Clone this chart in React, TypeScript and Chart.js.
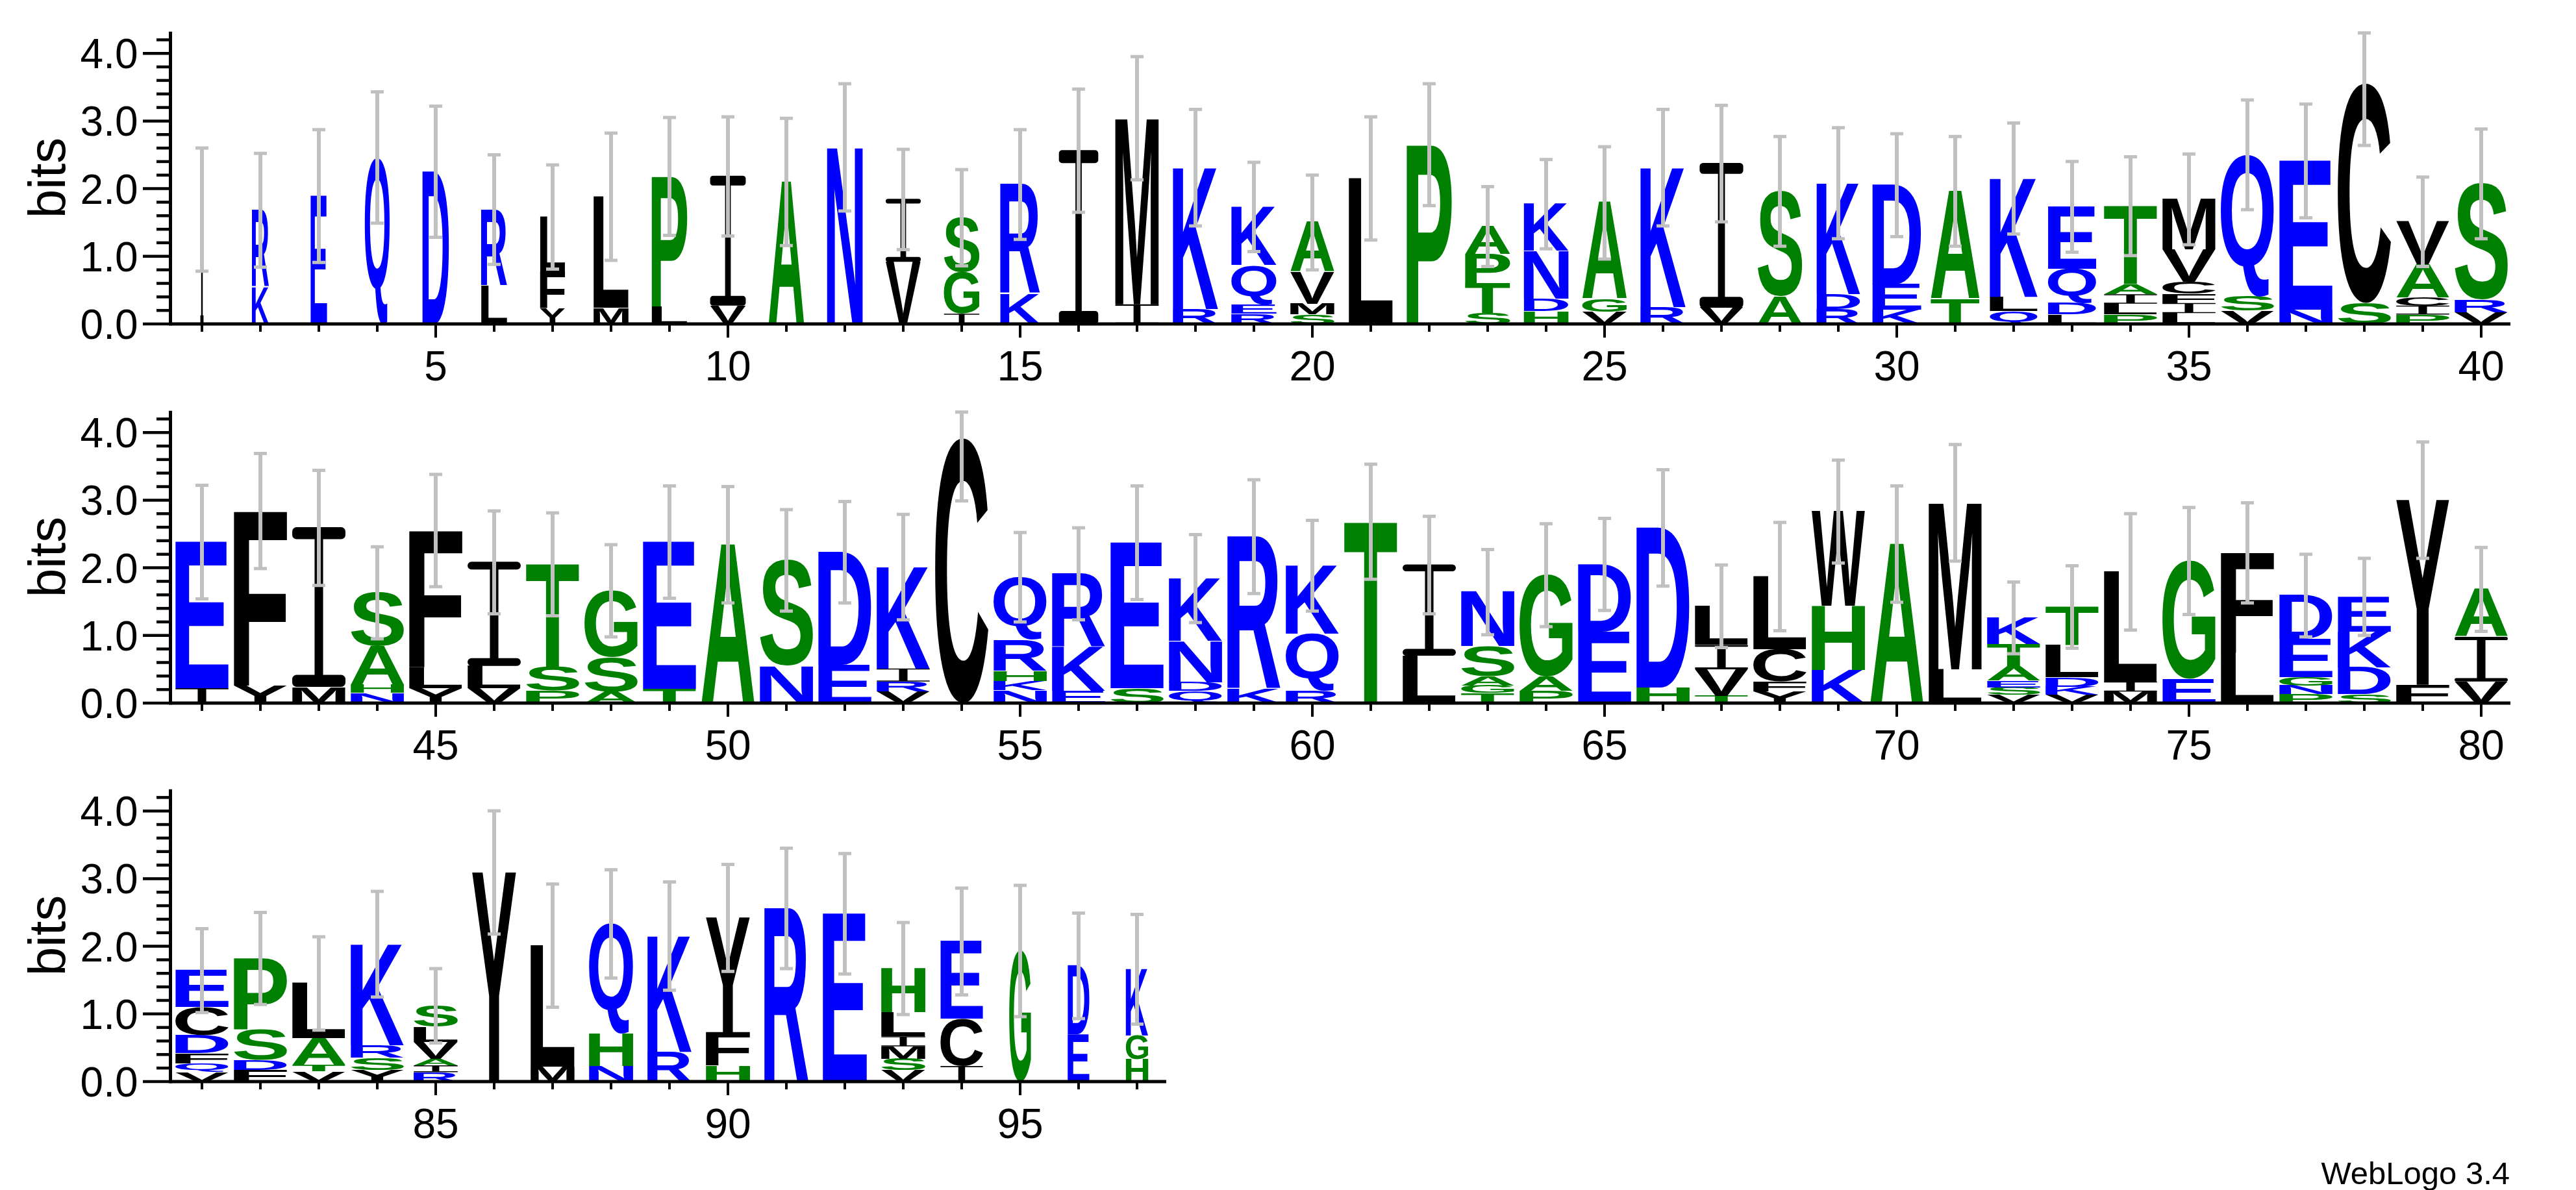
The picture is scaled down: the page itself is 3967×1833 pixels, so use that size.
import React, { useEffect, useRef } from 'react';
import { Chart, registerables } from 'chart.js';

Chart.register(...registerables);

// ---------------- data ----------------
// letters of each stack, listed bottom -> top
const stackLetters: string[] = [
  'I', 'KR', 'E', 'Q', 'D', 'LR', 'YFL', 'ML', 'LP', 'VI',
  'A', 'N', 'VI', 'IGS', 'KR', 'I', 'IM', 'RK', 'REQK', 'SMVA',
  'L', 'P', 'STPA', 'HDNK', 'VGA', 'RK', 'VI', 'AS', 'RDK', 'KED',
  'TA', 'QLK', 'LDQE', 'PLIAT', 'LIFCVM', 'VSQ', 'NE', 'SC', 'PICAV', 'VRS',
  'IE', 'YF', 'MI', 'NHAS', 'YLF', 'VLI', 'PST', 'ASG', 'TE', 'A',
  'NS', 'ED', 'VRIK', 'C', 'NKHRQ', 'EKR', 'SE', 'QDNK', 'KR', 'RQK',
  'T', 'LI', 'TGASN', 'PAG', 'ED', 'HD', 'TVIL', 'YFCL', 'KHW', 'A',
  'LM', 'VSEATK', 'VKDLT', 'MIL', 'EG', 'LF', 'PNGED', 'SDKE', 'FY', 'VIA',
  'VQFDCE', 'FDSP', 'VTAL', 'YSRK', 'RIAVLS', 'Y', 'ML', 'NHQ', 'RK', 'HFY',
  'R', 'E', 'VSMILH', 'ICE', 'G', 'ED', 'HGK',
];

// height in bits of each letter, bottom -> top
const stackBits: number[][] = [
  [1.70], [0.55, 1.14], [1.90], [2.47], [2.26], [0.57, 1.13], [0.23, 0.55, 0.81], [0.24, 1.65], [0.26, 1.93], [0.27, 1.92],
  [2.11], [2.62], [0.92, 0.93], [0.15, 0.62, 0.81], [0.45, 1.62], [2.57], [0.29, 2.76], [0.22, 2.10], [0.15, 0.14, 0.58, 0.87], [0.14, 0.16, 0.47, 0.74],
  [2.16], [2.66], [0.16, 0.44, 0.43, 0.42], [0.19, 0.18, 0.71, 0.70], [0.18, 0.19, 1.43], [0.25, 2.07], [0.24, 2.14], [0.41, 1.56], [0.22, 0.22, 1.65], [0.21, 0.38, 1.47],
  [0.37, 1.60], [0.19, 0.21, 1.76], [0.14, 0.17, 0.51, 0.92], [0.14, 0.16, 0.14, 0.15, 1.16], [0.16, 0.15, 0.14, 0.17, 0.48, 0.75], [0.20, 0.21, 2.10], [0.21, 2.21], [0.31, 3.25], [0.14, 0.13, 0.12, 0.49, 0.64], [0.17, 0.19, 1.72],
  [0.22, 2.17], [0.26, 2.59], [0.24, 2.36], [0.15, 0.12, 0.57, 0.80], [0.22, 0.31, 2.03], [0.22, 0.33, 1.54], [0.19, 0.35, 1.52], [0.17, 0.51, 0.99], [0.21, 2.18], [2.35],
  [0.55, 1.57], [0.57, 1.67], [0.17, 0.15, 0.19, 1.51], [3.92], [0.19, 0.14, 0.15, 0.46, 0.93], [0.18, 0.65, 1.09], [0.22, 2.16], [0.18, 0.13, 0.61, 0.93], [0.21, 2.26], [0.18, 0.85, 1.01],
  [2.69], [0.70, 1.35], [0.15, 0.11, 0.14, 0.44, 0.81], [0.18, 0.21, 1.51], [1.06, 1.00], [0.23, 2.37], [0.11, 0.39, 0.36, 0.58], [0.17, 0.15, 0.48, 1.08], [0.49, 0.95, 1.40], [2.36],
  [0.50, 2.47], [0.12, 0.11, 0.10, 0.21, 0.33, 0.40], [0.12, 0.12, 0.14, 0.48, 0.57], [0.17, 0.15, 1.63], [0.36, 1.75], [0.75, 1.48], [0.13, 0.13, 0.12, 0.57, 0.65], [0.13, 0.40, 0.53, 0.52], [0.27, 2.74], [0.32, 0.66, 0.71],
  [0.14, 0.13, 0.15, 0.27, 0.41, 0.55], [0.17, 0.15, 0.46, 1.05], [0.15, 0.10, 0.39, 0.82], [0.17, 0.18, 0.19, 1.50], [0.14, 0.10, 0.10, 0.25, 0.22, 0.32], [3.10], [0.22, 1.80], [0.23, 0.48, 1.63], [0.44, 1.72], [0.24, 0.49, 1.70],
  [2.57], [2.49], [0.17, 0.17, 0.18, 0.15, 0.36, 0.65], [0.23, 0.70, 1.15], [1.94], [0.70, 1.02], [0.33, 0.35, 0.99],
];

// visible stack width (fraction of a full column; narrower where the column has gaps)
const stackWidths: number[] = [
  0.06, 0.32, 0.31, 0.47, 0.50, 0.49, 0.47, 0.66, 0.67, 0.67,
  0.67, 0.67, 0.66, 0.67, 0.75, 0.74, 0.82, 0.85, 0.85, 0.83,
  0.83, 0.85, 0.85, 0.84, 0.84, 0.85, 0.82, 0.84, 0.82, 0.92,
  0.92, 0.90, 0.91, 1, 1, 1, 1, 1, 1, 1,
  1, 1, 1, 1, 1, 1, 1, 1, 1, 1,
  1, 1, 1, 1, 1, 1, 1, 1, 1, 1,
  1, 1, 1, 1, 1, 1, 1, 1, 1, 1,
  1, 1, 1, 1, 1, 1, 1, 1, 1, 1,
  1, 1, 1, 1, 0.83, 0.83, 0.83, 0.83, 0.83, 0.83,
  0.83, 0.83, 0.83, 0.8, 0.41, 0.41, 0.42,
];

// half height of the error bar, in bits
const errorBits: number[] = [
  0.92, 0.85, 0.99, 0.98, 0.98, 0.82, 0.78, 0.95, 0.88, 0.89,
  0.95, 0.95, 0.75, 0.72, 0.82, 0.92, 0.92, 0.87, 0.67, 0.71,
  0.92, 0.91, 0.60, 0.67, 0.84, 0.87, 0.87, 0.82, 0.83, 0.77,
  0.82, 0.83, 0.68, 0.74, 0.68, 0.82, 0.85, 0.92, 0.67, 0.82,
  0.85, 0.86, 0.86, 0.69, 0.84, 0.77, 0.77, 0.69, 0.84, 0.87,
  0.76, 0.76, 0.79, 0.93, 0.67, 0.69, 0.85, 0.66, 0.85, 0.68,
  0.86, 0.73, 0.64, 0.77, 0.69, 0.87, 0.62, 0.81, 0.77, 0.87,
  0.87, 0.54, 0.62, 0.87, 0.80, 0.75, 0.62, 0.58, 0.87, 0.63,
  0.63, 0.69, 0.70, 0.79, 0.56, 0.92, 0.92, 0.81, 0.81, 0.80,
  0.90, 0.90, 0.69, 0.80, 0.98, 0.79, 0.82,
];

const rowStarts: number[] = [1, 41, 81];
const rowEnds: number[] = [40, 80, 97];
const yTickLabels: string[] = ['0.0', '1.0', '2.0', '3.0', '4.0'];
const xTickLabels: string[] = ['5', '10', '15', '20', '25', '30', '35', '40', '45', '50', '55', '60', '65', '70', '75', '80', '85', '90', '95'];
const yAxisTitle = 'bits';
const fineprint = 'WebLogo 3.4';
const Y_MAX = 4.32;

// ---------------- styling ----------------
const PAGE_W = 3967;
const PAGE_H = 1833;
const ROW_TOPS = [0, 584, 1167];
const ROW_HEIGHTS = [600, 600, 666];
const BASE_Y = 499;
const PLOT_LEFT = 266;
const COL_PX = 90;
const BOX_FRAC = 0.91;
const BLUE = '#0000ff';
const GREEN = '#008000';
const BLACK = '#000000';
const ERR_COLOR = '#c0c0c0';
const GLYPH_FONT = 'bold 200px "Liberation Sans", Arial, sans-serif';
const LABEL_FONT = '"Liberation Sans", Arial, Helvetica, sans-serif';

function letterColor(ch: string): string {
  if ('RKDENQ'.includes(ch)) return BLUE;
  if ('SGHTAP'.includes(ch)) return GREEN;
  return BLACK;
}

function drawGlyph(ctx: CanvasRenderingContext2D, ch: string, x: number, y: number, w: number, h: number, color: string) {
  if (w <= 0 || h <= 0) return;
  ctx.save();
  ctx.fillStyle = color;
  if (ch === 'I') {
    const t = Math.max(h * 0.075, 1.5);
    const stem = Math.max(w * 0.16, 2.5);
    ctx.fillRect(x + (w - stem) / 2, y + t * 0.5, stem, h - t);
    const r = Math.min(t / 2, w * 0.08);
    ctx.beginPath();
    (ctx as any).roundRect(x, y, w, t, r);
    (ctx as any).roundRect(x, y + h - t, w, t, r);
    ctx.fill();
  } else {
    ctx.font = GLYPH_FONT;
    ctx.textAlign = 'left';
    ctx.textBaseline = 'alphabetic';
    const m = ctx.measureText(ch);
    const gl = m.actualBoundingBoxLeft;
    const gw = m.actualBoundingBoxLeft + m.actualBoundingBoxRight;
    const ga = m.actualBoundingBoxAscent;
    const gh = m.actualBoundingBoxAscent + m.actualBoundingBoxDescent;
    ctx.translate(x, y);
    ctx.scale(w / gw, h / gh);
    ctx.fillText(ch, gl, ga);
  }
  ctx.restore();
}

function makeLogoPlugin(rowIndex: number) {
  const start = rowStarts[rowIndex];
  const end = rowEnds[rowIndex];
  return {
    id: 'seqLogo' + rowIndex,
    afterDraw(chart: any) {
      const ctx: CanvasRenderingContext2D = chart.ctx;
      const xs = chart.scales.x;
      const ys = chart.scales.y;
      ctx.save();

      // letters
      for (let p = start; p <= end; p++) {
        const i = p - 1;
        const letters = stackLetters[i];
        const bits = stackBits[i];
        const cx = xs.getPixelForValue(p);
        const colW = xs.getPixelForValue(p + 0.5) - xs.getPixelForValue(p - 0.5);
        const w = colW * BOX_FRAC * stackWidths[i];
        let base = 0;
        for (let k = 0; k < letters.length; k++) {
          const yBottom = ys.getPixelForValue(base);
          const yTop = ys.getPixelForValue(base + bits[k]);
          drawGlyph(ctx, letters[k], cx - w / 2, yTop, w, yBottom - yTop, letterColor(letters[k]));
          base += bits[k];
        }
      }

      // error bars
      ctx.strokeStyle = ERR_COLOR;
      ctx.lineCap = 'butt';
      for (let p = start; p <= end; p++) {
        const i = p - 1;
        const total = stackBits[i].reduce((a, b) => a + b, 0);
        const hi = Math.min(total + errorBits[i], Y_MAX);
        const lo = Math.max(total - errorBits[i], 0);
        const cx = xs.getPixelForValue(p);
        const yHi = ys.getPixelForValue(hi);
        const yLo = ys.getPixelForValue(lo);
        ctx.lineWidth = 6;
        ctx.beginPath();
        ctx.moveTo(cx, yLo);
        ctx.lineTo(cx, yHi);
        ctx.stroke();
        ctx.lineWidth = 5;
        ctx.beginPath();
        ctx.moveTo(cx - 10, yHi + 2);
        ctx.lineTo(cx + 10, yHi + 2);
        ctx.moveTo(cx - 10, yLo);
        ctx.lineTo(cx + 10, yLo);
        ctx.stroke();
      }

      // axes
      const yb = ys.getPixelForValue(0);
      const yt = ys.getPixelForValue(Y_MAX);
      const xl = xs.getPixelForValue(start - 0.5);
      const xr = xs.getPixelForValue(end + 0.5);
      const axX = xl - 3.5;
      ctx.strokeStyle = BLACK;
      ctx.lineWidth = 5;
      ctx.beginPath();
      ctx.moveTo(axX, yb + 2.5);
      ctx.lineTo(axX, yt);
      ctx.stroke();
      ctx.beginPath();
      ctx.moveTo(axX, yb);
      ctx.lineTo(xr, yb);
      ctx.stroke();

      // y ticks (minor every 0.2, major every 1)
      ctx.lineWidth = 4.5;
      for (let k = 0; k * 0.2 <= Y_MAX; k++) {
        const py = ys.getPixelForValue(k * 0.2);
        const len = k % 5 === 0 ? 40 : 19;
        ctx.beginPath();
        ctx.moveTo(axX - 2.5 - len, py);
        ctx.lineTo(axX, py);
        ctx.stroke();
      }
      // x ticks
      ctx.lineWidth = 4;
      for (let p = start; p <= end; p++) {
        const px = xs.getPixelForValue(p);
        const len = p % 5 === 0 ? 21 : 12;
        ctx.beginPath();
        ctx.moveTo(px, yb);
        ctx.lineTo(px, yb + len);
        ctx.stroke();
      }

      // labels
      ctx.fillStyle = BLACK;
      ctx.font = '64px ' + LABEL_FONT;
      ctx.textAlign = 'right';
      ctx.textBaseline = 'alphabetic';
      yTickLabels.forEach((lbl) => {
        const py = ys.getPixelForValue(parseFloat(lbl));
        ctx.fillText(lbl, axX - 50, py + 23);
      });
      ctx.textAlign = 'center';
      xTickLabels.forEach((lbl) => {
        const v = Number(lbl);
        if (v < start || v > end) return;
        ctx.fillText(lbl, xs.getPixelForValue(v), yb + 87);
      });

      ctx.save();
      ctx.font = '80px ' + LABEL_FONT;
      ctx.translate(100, ys.getPixelForValue(Y_MAX / 2));
      ctx.rotate(-Math.PI / 2);
      ctx.textAlign = 'center';
      ctx.fillText(yAxisTitle, 0, 0);
      ctx.restore();

      if (rowIndex === 2) {
        ctx.font = '49px ' + LABEL_FONT;
        ctx.textAlign = 'right';
        ctx.fillText(fineprint, 3865, 1824 - ROW_TOPS[2]);
      }
      ctx.restore();
    },
  };
}

function LogoRow({ rowIndex }: { rowIndex: number }) {
  const ref = useRef<HTMLCanvasElement | null>(null);
  useEffect(() => {
    const canvas = ref.current;
    if (!canvas) return;
    const start = rowStarts[rowIndex];
    const end = rowEnds[rowIndex];
    const h = ROW_HEIGHTS[rowIndex];
    const plotRight = PLOT_LEFT + (end - start + 1) * COL_PX;
    const points: { x: number; y: number }[] = [];
    for (let p = start; p <= end; p++) {
      points.push({ x: p, y: stackBits[p - 1].reduce((a, b) => a + b, 0) });
    }
    const chart = new Chart(canvas, {
      type: 'scatter',
      data: { datasets: [{ data: points, pointRadius: 0, showLine: false }] },
      options: {
        responsive: false,
        animation: false,
        devicePixelRatio: 1,
        events: [],
        layout: {
          padding: {
            left: PLOT_LEFT,
            right: PAGE_W - plotRight,
            top: BASE_Y - Y_MAX * 104.2,
            bottom: h - BASE_Y,
          },
        },
        scales: {
          x: { type: 'linear', min: start - 0.5, max: end + 0.5, display: false },
          y: { type: 'linear', min: 0, max: Y_MAX, display: false },
        },
        plugins: { legend: { display: false }, tooltip: { enabled: false }, title: { display: false } },
      },
      plugins: [makeLogoPlugin(rowIndex) as any],
    });
    return () => chart.destroy();
  }, [rowIndex]);
  return (
    <canvas
      ref={ref}
      width={PAGE_W}
      height={ROW_HEIGHTS[rowIndex]}
      style={{ position: 'absolute', left: 0, top: ROW_TOPS[rowIndex], width: PAGE_W, height: ROW_HEIGHTS[rowIndex] }}
    />
  );
}

export default function App() {
  return (
    <div style={{ position: 'absolute', left: 0, top: 0, width: PAGE_W, height: PAGE_H, background: '#ffffff', overflow: 'hidden' }}>
      <LogoRow rowIndex={0} />
      <LogoRow rowIndex={1} />
      <LogoRow rowIndex={2} />
    </div>
  );
}
